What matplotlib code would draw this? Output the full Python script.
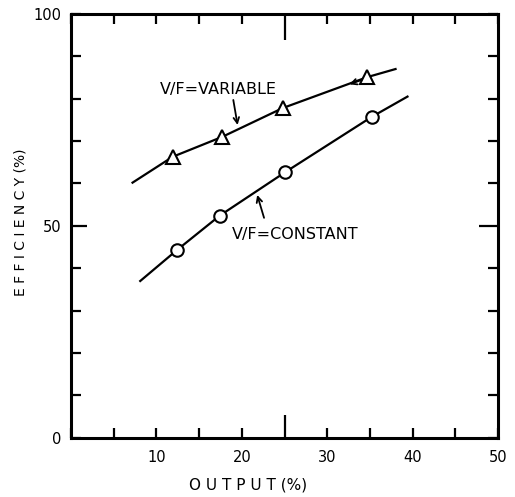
import matplotlib
matplotlib.use("Agg")
import matplotlib.pyplot as plt

# curves (output %, efficiency %)
var_line_x = [7.2, 11.9, 17.7, 24.8, 34.7, 38.0]
var_line_y = [60.2, 66.3, 71.0, 77.8, 85.1, 87.0]
const_line_x = [8.1, 12.4, 17.4, 25.1, 35.2, 39.4]
const_line_y = [37.0, 44.3, 52.4, 62.7, 75.7, 80.5]

# measured points
var_x = [11.9, 17.7, 24.8, 34.7]
var_y = [66.3, 71.0, 77.8, 85.1]
const_x = [12.4, 17.4, 25.1, 35.2]
const_y = [44.3, 52.4, 62.7, 75.7]

x_ticks = list(range(0, 55, 5))
x_labels = ["", "", "10", "", "20", "", "30", "", "40", "", "50"]
y_ticks = list(range(0, 110, 10))
y_labels = ["0", "", "", "", "", "50", "", "", "", "", "100"]

plt.rcParams['font.family'] = ['DejaVu Sans']

fig = plt.figure(figsize=(5.15, 4.97), dpi=100)
ax = fig.add_axes([0.138, 0.119, 0.829, 0.853])

ax.plot(var_line_x, var_line_y, color="black", lw=1.6)
ax.plot(const_line_x, const_line_y, color="black", lw=1.6)
ax.plot(var_x, var_y, "^", ms=10, mfc="white", mec="black", mew=1.5)
ax.plot(const_x, const_y, "o", ms=9, mfc="white", mec="black", mew=1.5)

ax.set_xlim(0, 50)
ax.set_ylim(0, 100)
ax.set_xticks(x_ticks)
ax.set_xticklabels(x_labels)
ax.set_yticks(y_ticks)
ax.set_yticklabels(y_labels)
ax.tick_params(direction="in", top=True, right=True, length=7, width=1.6,
               labelsize=10.5, pad=7)
ax.tick_params(axis="x", pad=9)

# longer ticks at x=25 and y=50
t = ax.xaxis.get_major_ticks()[5]
t.tick1line.set_markersize(16.5)
t.tick2line.set_markersize(19)
t = ax.yaxis.get_major_ticks()[5]
t.tick1line.set_markersize(11.5)
t.tick2line.set_markersize(13.7)

for s in ax.spines.values():
    s.set_linewidth(2.2)

arrow = dict(arrowstyle="->", color="black", lw=1.3, shrinkA=0, shrinkB=0)
ax.text(17.3, 82.1, "V/F=VARIABLE", ha="center", va="center", fontsize=11.5)
ax.annotate("", xy=(19.5, 73.8), xytext=(19.0, 79.7), arrowprops=arrow)
ax.text(26.3, 47.9, "V/F=CONSTANT", ha="center", va="center", fontsize=11.5)
ax.annotate("", xy=(21.8, 57.3), xytext=(22.6, 51.9), arrowprops=arrow)
ax.annotate("", xy=(32.6, 83.4), xytext=(34.0, 84.4), arrowprops=arrow)

fig.text(0.482, 0.01, "O U T P U T (%)", ha="center", va="bottom", fontsize=11)
fig.text(0.04, 0.553, "E F F I C I E N C Y (%)", ha="center", va="center",
         rotation=90, fontsize=10)

fig.savefig("out.png", dpi=100)
